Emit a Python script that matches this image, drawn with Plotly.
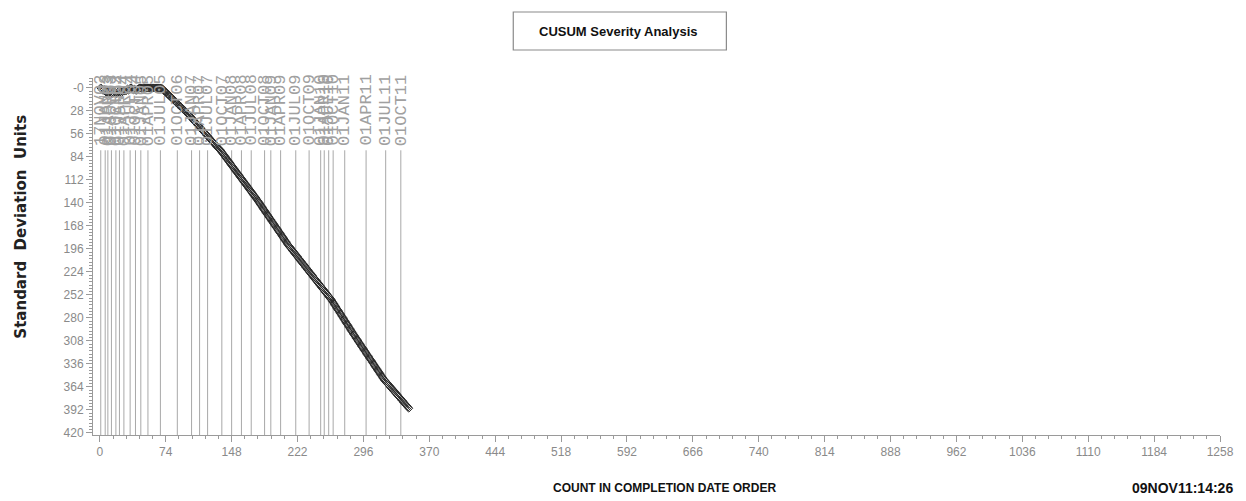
import plotly.graph_objects as go

# ---------------- data ----------------
count = list(range(1, 348))

cusum = [
    # 1-68 : near zero
    0.0, 1.2, 2.5, 3.1, 2.0, 3.8, 5.2, 4.1, 5.9, 6.3,
    5.0, 4.2, 5.6, 6.8, 5.5, 4.0, 4.9, 6.1, 7.0, 5.8,
    4.6, 3.5, 4.8, 5.9, 4.4, 3.2, 4.1, 2.8, 3.9, 2.6,
    1.5, 2.7, 1.9, 0.8, 0.0, 0.9, 1.8, 2.6, 1.6, 2.4,
    3.1, 2.2, 1.3, 0.4, 0.0, 0.0, 0.7, 0.0, 0.0, 0.5,
    0.0, 0.0, 0.3, 0.0, 0.0, 0.0, 0.6, 0.0, 0.0, 0.0,
    0.0, 0.4, 0.0, 0.0, 0.0, 0.0, 0.0, 0.2,
    # 69-100
    0.0, 1.1, 2.0, 3.3, 4.1, 5.4, 6.2, 7.5, 8.3, 9.6,
    10.4, 11.7, 12.5, 13.8, 14.6, 15.9, 16.8, 18.0, 18.9, 20.1,
    21.0, 22.3, 23.1, 24.4, 25.3, 26.5, 27.4, 28.6, 29.5, 30.8,
    31.7, 33.0,
    # 101-135
    34.1, 35.5, 36.6, 37.9, 39.0, 40.4, 41.5, 42.8, 43.9, 45.3,
    46.4, 47.7, 48.8, 50.2, 51.3, 52.6, 53.7, 55.1, 56.2, 57.5,
    58.6, 60.0, 61.1, 62.4, 63.5, 64.9, 66.0, 67.3, 68.4, 69.8,
    70.9, 72.2, 73.3, 74.2, 75.4,
    # 136-176
    76.8, 78.3, 79.7, 81.3, 82.6, 84.2, 85.5, 87.1, 88.5, 90.0,
    91.4, 92.9, 94.4, 95.8, 97.3, 98.7, 100.2, 101.7, 103.1, 104.6,
    106.0, 107.5, 109.0, 110.4, 111.9, 113.3, 114.8, 116.3, 117.7, 119.2,
    120.6, 122.1, 123.6, 125.0, 126.5, 127.9, 129.4, 130.9, 132.3, 133.8,
    135.2,
    # 177-212
    136.8, 138.4, 139.9, 141.6, 143.1, 144.7, 146.3, 147.9, 149.4, 151.0,
    152.6, 154.2, 155.8, 157.3, 158.9, 160.5, 162.1, 163.6, 165.2, 166.8,
    168.4, 170.0, 171.5, 173.1, 174.7, 176.3, 177.8, 179.4, 181.0, 182.6,
    184.1, 185.7, 187.3, 188.9, 190.5, 192.0,
    # 213-260
    193.4, 194.7, 196.1, 197.5, 198.9, 200.2, 201.6, 203.0, 204.4, 205.7,
    207.1, 208.5, 209.9, 211.2, 212.6, 214.0, 215.4, 216.7, 218.1, 219.5,
    220.9, 222.2, 223.6, 225.0, 226.4, 227.7, 229.1, 230.5, 231.9, 233.2,
    234.6, 236.0, 237.4, 238.7, 240.1, 241.5, 242.9, 244.2, 245.6, 247.0,
    248.4, 249.7, 251.1, 252.5, 253.9, 255.2, 256.6, 258.0,
    # 261-288
    259.7, 261.4, 263.0, 264.7, 266.4, 268.1, 269.8, 271.4, 273.1, 274.8,
    276.5, 278.2, 279.8, 281.5, 283.2, 284.9, 286.6, 288.2, 289.9, 291.6,
    293.3, 295.0, 296.6, 298.3, 300.0, 301.7, 303.4, 305.0,
    # 289-319
    306.6, 308.2, 309.8, 311.5, 313.1, 314.7, 316.3, 317.9, 319.5, 321.1,
    322.7, 324.4, 326.0, 327.6, 329.2, 330.8, 332.4, 334.0, 335.6, 337.3,
    338.9, 340.5, 342.1, 343.7, 345.3, 346.9, 348.5, 350.2, 351.8, 353.4,
    355.0,
    # 320-347
    356.2, 357.5, 358.8, 360.0, 361.2, 362.5, 363.8, 365.0, 366.2, 367.5,
    368.8, 370.0, 371.2, 372.5, 373.8, 375.0, 376.2, 377.5, 378.8, 380.0,
    381.2, 382.5, 383.8, 385.0, 386.2, 387.5, 388.8, 390.0,
]

ref_counts = [1, 6, 9, 13, 18, 22, 27, 34, 40, 46, 54, 68, 87, 103, 112, 121,
              137, 148, 159, 170, 185, 192, 203, 220, 235, 248, 252, 257, 262,
              275, 299, 321, 338]
ref_labels = ["17NOV02", "01JAN03", "01APR03", "01JUL03", "01OCT03", "01JAN04",
              "01APR04", "01JUL04", "01OCT04", "01JAN05", "01APR05", "01JUL05",
              "01OCT06", "01JAN07", "01APR07", "01JUL07", "01OCT07", "01JAN08",
              "01APR08", "01JUL08", "01OCT08", "01JAN09", "01APR09", "01JUL09",
              "01OCT09", "01JAN10", "01APR10", "01JUL10", "01OCT10", "01JAN11",
              "01APR11", "01JUL11", "01OCT11"]

y_tickvals = [0, 28, 56, 84, 112, 140, 168, 196, 224, 252, 280, 308, 336, 364, 392, 420]
y_ticktext = ["-0", "28", "56", "84", "112", "140", "168", "196", "224", "252",
              "280", "308", "336", "364", "392", "420"]

title_text = "CUSUM Severity Analysis"
x_title = "COUNT IN COMPLETION DATE ORDER"
y_title = "Standard&nbsp; Deviation&nbsp; Units"
stamp = "09NOV11:14:26"

# ---------------- figure ----------------
W, H = 1246, 501
ML, MR, MT, MB = 93, 16, 78, 66
PW, PH = W - ML - MR, H - MT - MB

def px_x(px):
    return (px - ML) / PW

def px_y(py):
    return (H - MB - py) / PH

fig = go.Figure()

fig.add_trace(go.Scatter(
    x=count, y=cusum, mode="lines+markers",
    line=dict(color="#2a2a2a", width=1),
    marker=dict(symbol="diamond-open", size=6, color="#2a2a2a",
                line=dict(width=1, color="#2a2a2a")),
    showlegend=False, hoverinfo="x+y",
))

y_top, y_bot = -12, 422.6
line_top = 76

shapes = []
for c in ref_counts:
    shapes.append(dict(type="line", xref="x", yref="y", x0=c, x1=c,
                       y0=line_top, y1=y_bot, layer="below",
                       line=dict(color="#a8a8a8", width=1)))
# title box
shapes.append(dict(type="rect", xref="paper", yref="paper",
                   x0=px_x(517), x1=px_x(732), y0=px_y(50), y1=px_y(12),
                   line=dict(color="#8a8a8a", width=1.2)))

annotations = []
for c, lab in zip(ref_counts, ref_labels):
    annotations.append(dict(x=c, y=73, xref="x", yref="y", text=lab,
                            textangle=-90, showarrow=False,
                            xanchor="center", yanchor="bottom",
                            font=dict(family="Liberation Mono", size=17, color="#a0a0a0")))

annotations.append(dict(x=px_x(623), y=px_y(31), xref="paper", yref="paper",
                        text="<b>" + title_text + "</b>", showarrow=False,
                        xanchor="center", yanchor="middle",
                        font=dict(family="Liberation Sans", size=13, color="#111111")))
annotations.append(dict(x=px_x(20), y=px_y(227), xref="paper", yref="paper",
                        text="<b>" + y_title + "</b>", showarrow=False, textangle=-90,
                        xanchor="center", yanchor="middle",
                        font=dict(family="DejaVu Sans", size=15, color="#222222")))
annotations.append(dict(x=px_x(670), y=px_y(488), xref="paper", yref="paper",
                        text="<b>" + x_title + "</b>", showarrow=False,
                        xanchor="center", yanchor="middle",
                        font=dict(family="Liberation Sans", size=12, color="#111111")))
annotations.append(dict(x=px_x(1245), y=px_y(488), xref="paper", yref="paper",
                        text="<b>" + stamp + "</b>", showarrow=False,
                        xanchor="right", yanchor="middle",
                        font=dict(family="Liberation Sans", size=14, color="#111111")))

fig.update_layout(
    width=W, height=H,
    margin=dict(l=ML, r=MR, t=MT, b=MB, pad=0),
    paper_bgcolor="white", plot_bgcolor="white",
    shapes=shapes, annotations=annotations,
    xaxis=dict(range=[-7.7, 1258], tick0=0, dtick=74, showgrid=False, zeroline=False,
               showline=True, linecolor="#9a9a9a", linewidth=1,
               ticks="outside", ticklen=6, tickcolor="#9a9a9a",
               tickfont=dict(family="Liberation Sans", size=12, color="#8a8a8a"),
               minor=dict(dtick=14.8, tick0=0, ticks="outside", ticklen=3, tickcolor="#9a9a9a"),
               fixedrange=True),
    yaxis=dict(range=[y_bot, y_top], tickvals=y_tickvals, ticktext=y_ticktext,
               showgrid=False, zeroline=False,
               showline=True, linecolor="#9a9a9a", linewidth=1,
               ticks="outside", ticklen=6, tickcolor="#9a9a9a",
               tickfont=dict(family="Liberation Sans", size=12, color="#8a8a8a"),
               minor=dict(dtick=4, tick0=0, ticks="outside", ticklen=3, tickcolor="#9a9a9a"),
               fixedrange=True),
)

fig.write_html("out.html")
